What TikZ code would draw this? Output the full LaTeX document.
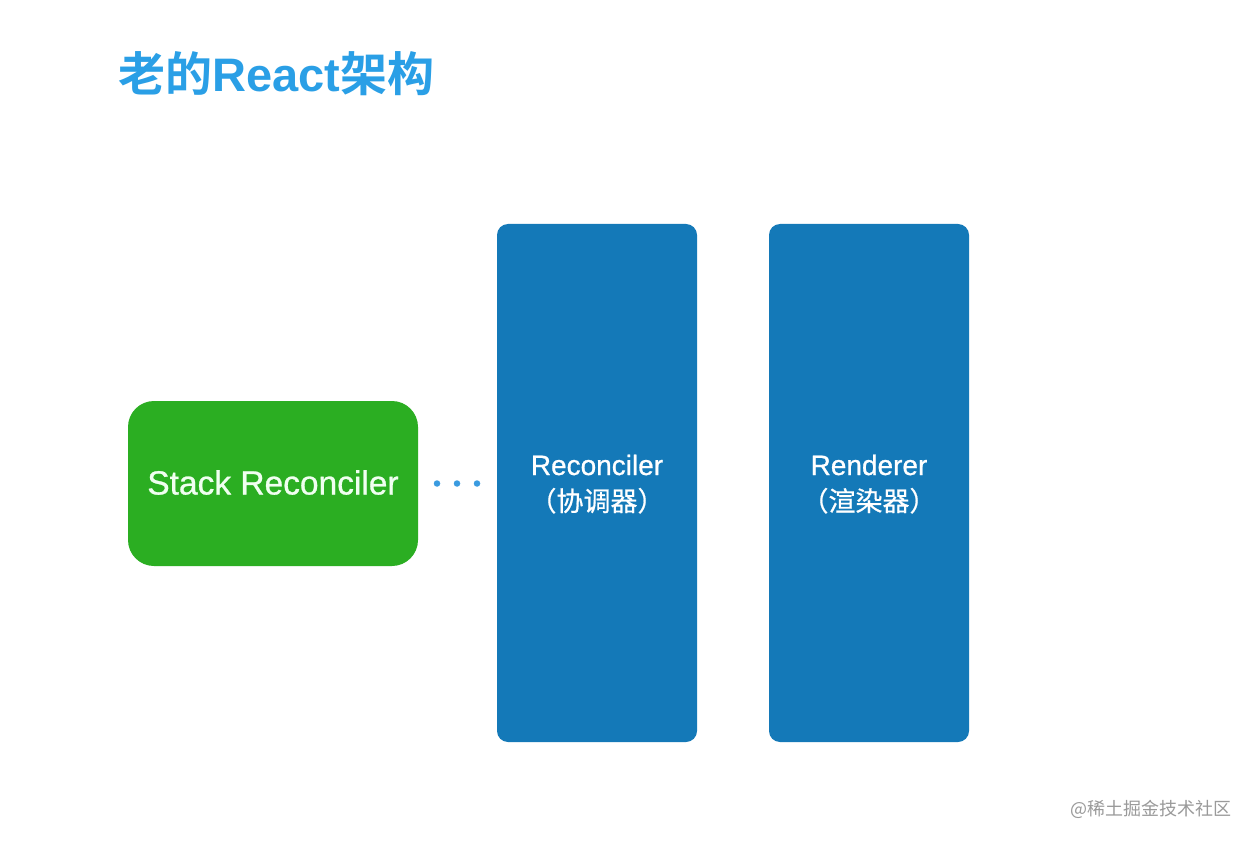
\documentclass[tikz,border=0pt]{standalone}
\usepackage{fontspec}
\setmainfont{Liberation Sans}
\newfontfamily\medsans[FakeBold=0.8]{Liberation Sans}
\newfontfamily\cjk{Noto Sans CJK SC}
\newfontfamily\cjkmed[FakeBold=0.6]{Noto Sans CJK SC}
\newfontfamily\cjkb{Noto Sans CJK SC Bold}
\newfontfamily\latb{Liberation Sans Bold}
\definecolor{titleblue}{HTML}{2A9FE6}
\definecolor{boxblue}{HTML}{1479B8}
\definecolor{boxgreen}{HTML}{2BAE22}
\definecolor{dotblue}{HTML}{3A9BE0}
\definecolor{wmgray}{HTML}{9A9A9A}
\tikzset{
  bluebox/.style={fill=boxblue, rounded corners=11pt, draw=none},
  greenbox/.style={fill=boxgreen, rounded corners=26pt, draw=none},
  boxtext/.style={text=white, anchor=base, inner sep=0pt, font=\medsans\fontsize{28}{28}\selectfont},
  boxcjk/.style={text=white, anchor=base, inner sep=0pt, font=\cjkmed\fontsize{27}{27}\selectfont},
  dotstyle/.style={fill=dotblue, circle, inner sep=0pt, minimum size=6.5pt},
}
\begin{document}
\begin{tikzpicture}[x=1pt,y=-1pt]
\useasboundingbox[fill=white] (0,0) rectangle (1256,842);
% title
\node[anchor=base west, inner sep=0pt, text=titleblue] (title) at (118,92)
  {\cjkb\fontsize{47}{47}\selectfont 老的{\latb React}架构};
% boxes
\path[greenbox] (128,401) rectangle (418,566);
\path[bluebox] (497,224) rectangle (697,742);
\path[bluebox] (769,224) rectangle (969,742);
% texts
\node[text=white!94!green, anchor=base, inner sep=0pt, font=\medsans\fontsize{33.5}{33.5}\selectfont] (gtext) at (273,494.5) {Stack Reconciler};
\node[boxtext] (rtext) at (597,475) {Reconciler};
\node[boxcjk] (rtext2) at (597,511) {（协调器）};
\node[boxtext] (ntext) at (869,475) {Renderer};
\node[boxcjk] (ntext2) at (869,511) {（渲染器）};
% dots
\node[dotstyle] (d1) at (437,483.5) {};
\node[dotstyle] (d2) at (457,483.5) {};
\node[dotstyle] (d3) at (477,483.5) {};
% watermark
\node[anchor=base east, inner sep=0pt, text=wmgray, font=\cjk\fontsize{18}{18}\selectfont] (wm) at (1232,815) {@稀土掘金技术社区};
\end{tikzpicture}
\end{document}
